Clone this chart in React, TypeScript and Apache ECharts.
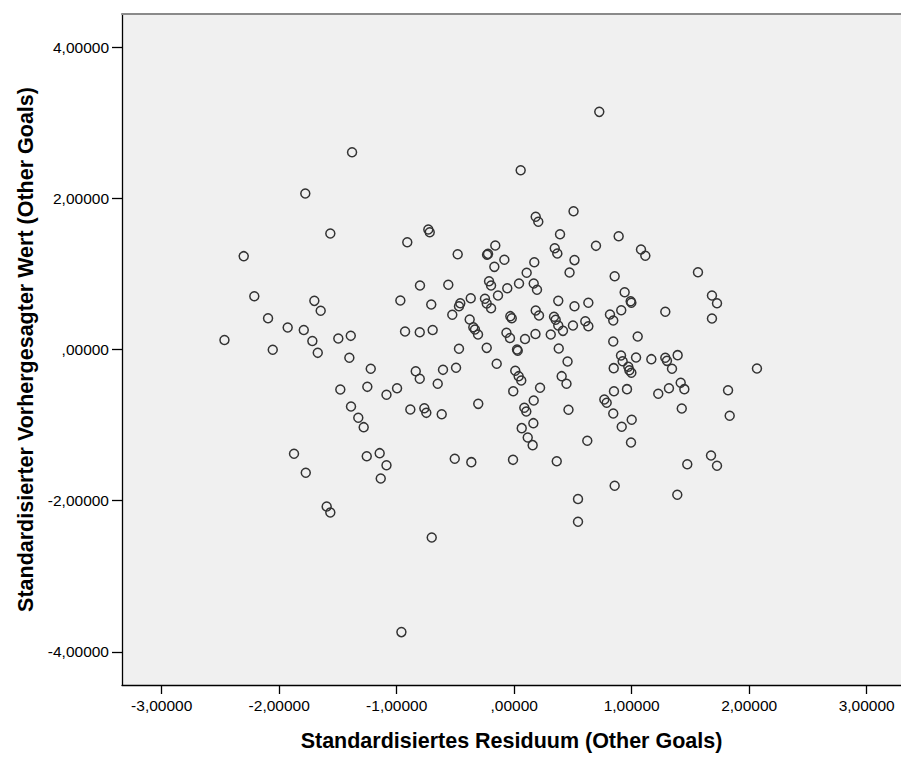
import React, { useEffect, useRef } from "react";
import * as echarts from "echarts";

const xTicks = [-3, -2, -1, 0, 1, 2, 3];
const yTicks = [-4, -2, 0, 2, 4];

const xTitle = "Standardisiertes Residuum (Other Goals)";
const yTitle = "Standardisierter Vorhergesagter Wert (Other Goals)";

// Standardised residual (x)
const residuals = [
  -1.38, -1.778, -1.565, -2.302, -2.212, -1.701, -1.647, -2.095, -1.928, -1.791,
  -2.466, -1.718, -1.497, -1.391, -2.055, -1.672, -1.403, -1.221, -1.48, -1.25,
  -1.087, -1.389, -1.327, -1.281, -1.874, -1.774, -1.255, -1.145, -1.087, -1.136,
  -1.596, -1.565, 0.055, 0.505, 0.183, 0.205, -0.731, -0.719, -0.91, 0.39,
  -0.481, -0.231, -0.223, -0.161, -0.084, -0.169, 0.171, 0.345, 0.367, 0.513,
  0.471, 0.106, -0.214, -0.197, -0.059, 0.041, 0.166, 0.194, -0.802, -0.561,
  -0.969, -0.706, -0.459, -0.47, -0.37, -0.249, -0.234, -0.197, -0.138, -0.527,
  -0.033, -0.021, 0.183, 0.211, 0.375, 0.513, -0.379, -0.348, -0.334, -0.308,
  -0.929, -0.804, -0.694, -0.066, -0.036, 0.092, 0.181, 0.311, 0.339, 0.353,
  0.375, 0.415, 0.5, -0.47, -0.234, 0.024, 0.03, 0.379, 0.454, -0.149,
  0.009, 0.038, 0.06, -0.008, 0.22, 0.404, 0.445, -0.838, -0.804, -0.606,
  -0.495, -0.651, -0.997, -0.884, -0.765, -0.748, -0.617, -0.306, 0.086, 0.103,
  0.166, 0.462, 0.064, 0.163, 0.115, 0.157, -0.506, -0.365, -0.01, 0.362,
  -0.702, 0.543, 0.543, 0.724, 0.889, 0.696, 1.079, 1.116, 0.855, 1.564,
  0.94, 0.991, 0.997, 0.911, 0.815, 0.843, 0.631, 0.605, 0.631, 1.286,
  1.683, 1.726, 1.683, 1.051, 0.843, 0.909, 0.923, 1.037, 0.847, 0.971,
  0.98, 0.997, 1.167, 1.286, 1.3, 1.391, 1.343, 0.849, 0.96, 0.767,
  0.787, 0.843, 1.0, 0.915, 0.994, 0.622, 1.226, 1.317, 1.417, 1.448,
  1.426, 1.82, 1.834, 2.066, 1.675, 1.726, 1.473, 0.855, 1.388, -0.96,
];

// Standardised predicted value (y)
const predicted = [
  2.611, 2.064, 1.535, 1.235, 0.705, 0.644, 0.512, 0.414, 0.291, 0.258,
  0.126, 0.112, 0.146, 0.181, -0.004, -0.044, -0.11, -0.255, -0.529, -0.494,
  -0.599, -0.754, -0.904, -1.028, -1.38, -1.632, -1.412, -1.372, -1.532, -1.707,
  -2.077, -2.157, 2.373, 1.83, 1.756, 1.69, 1.588, 1.552, 1.42, 1.526,
  1.261, 1.253, 1.266, 1.376, 1.187, 1.094, 1.155, 1.34, 1.27, 1.183,
  1.019, 1.015, 0.904, 0.847, 0.811, 0.873, 0.873, 0.79, 0.847, 0.856,
  0.648, 0.595, 0.613, 0.573, 0.679, 0.671, 0.609, 0.546, 0.715, 0.459,
  0.441, 0.414, 0.516, 0.45, 0.644, 0.573, 0.397, 0.295, 0.265, 0.198,
  0.238, 0.229, 0.258, 0.221, 0.152, 0.139, 0.205, 0.198, 0.433, 0.393,
  0.318, 0.247, 0.318, 0.009, 0.022, 0.0, -0.017, 0.013, -0.159, -0.189,
  -0.282, -0.353, -0.41, -0.552, -0.507, -0.353, -0.454, -0.287, -0.388, -0.269,
  -0.242, -0.454, -0.512, -0.794, -0.777, -0.838, -0.856, -0.719, -0.771, -0.82,
  -0.675, -0.798, -1.041, -0.975, -1.164, -1.266, -1.446, -1.491, -1.46, -1.478,
  -2.488, -1.978, -2.279, 3.145, 1.499, 1.372, 1.323, 1.24, 0.97, 1.023,
  0.758, 0.639, 0.618, 0.52, 0.463, 0.384, 0.618, 0.374, 0.308, 0.499,
  0.715, 0.613, 0.41, 0.172, 0.106, -0.079, -0.155, -0.106, -0.247, -0.229,
  -0.274, -0.308, -0.128, -0.11, -0.15, -0.075, -0.255, -0.552, -0.525, -0.662,
  -0.705, -0.847, -0.93, -1.023, -1.231, -1.208, -0.586, -0.512, -0.441, -0.525,
  -0.781, -0.539, -0.877, -0.251, -1.403, -1.539, -1.518, -1.804, -1.923, -3.74,
];

const X_MIN = -3.338;
const X_MAX = 3.292;
const Y_MIN = -4.44;
const Y_MAX = 4.44;

const FONT = "'Liberation Sans', Arial, Helvetica, sans-serif";

function fmt(v: number): string {
  const s = Math.abs(v).toFixed(5).replace(".", ",");
  const t = s.startsWith("0") ? s.slice(1) : s;
  return (v < -1e-9 ? "-" : "") + t;
}

export default function App() {
  const ref = useRef<HTMLDivElement>(null);

  useEffect(() => {
    document.body.style.margin = "0";
    if (!ref.current) return;
    const chart = echarts.init(ref.current, undefined, { renderer: "svg" });
    const data = residuals.map((x, i) => [x, predicted[i]]);
    chart.setOption({
      animation: false,
      backgroundColor: "#ffffff",
      grid: {
        left: 122,
        top: 14,
        right: 0,
        bottom: 73,
        show: true,
        backgroundColor: "#F0F0F0",
        borderWidth: 0,
      },
      xAxis: [
        {
          type: "value",
          min: X_MIN,
          max: X_MAX,
          position: "bottom",
          axisLine: { show: true, onZero: false, lineStyle: { color: "#000", width: 1.3 } },
          axisTick: { show: true, customValues: xTicks, length: 9, lineStyle: { color: "#000", width: 1.3 } },
          axisLabel: {
            customValues: xTicks,
            formatter: fmt,
            margin: 12,
            fontSize: 15.5,
            color: "#000",
            fontFamily: FONT,
          },
          splitLine: { show: false },
          name: xTitle,
          nameLocation: "middle",
          nameGap: 45,
          nameTextStyle: { fontSize: 21.5, fontWeight: "bold", color: "#000", fontFamily: FONT },
        },
        {
          type: "value",
          min: X_MIN,
          max: X_MAX,
          position: "top",
          axisLine: { show: true, onZero: false, lineStyle: { color: "#8a8a8a", width: 2 } },
          axisTick: { show: false },
          axisLabel: { show: false },
          splitLine: { show: false },
        },
      ],
      yAxis: {
        type: "value",
        min: Y_MIN,
        max: Y_MAX,
        axisLine: { show: true, onZero: false, lineStyle: { color: "#000", width: 1.3 } },
        axisTick: { show: true, customValues: yTicks, length: 10, lineStyle: { color: "#000", width: 1.3 } },
        axisLabel: {
          customValues: yTicks,
          formatter: fmt,
          margin: 13,
          fontSize: 15.5,
          color: "#000",
          fontFamily: FONT,
        },
        splitLine: { show: false },
        name: yTitle,
        nameLocation: "middle",
        nameGap: 78,
        nameRotate: 90,
        nameTextStyle: { fontSize: 21.5, fontWeight: "bold", color: "#000", fontFamily: FONT },
      },
      series: [
        {
          type: "scatter",
          xAxisIndex: 0,
          yAxisIndex: 0,
          data,
          symbol: "circle",
          symbolSize: 9,
          itemStyle: { color: "transparent", borderColor: "#333333", borderWidth: 1.5, opacity: 1 },
          emphasis: { disabled: true },
          silent: true,
        },
      ],
    });
    return () => chart.dispose();
  }, []);

  return <div ref={ref} style={{ width: 901, height: 758 }} />;
}
